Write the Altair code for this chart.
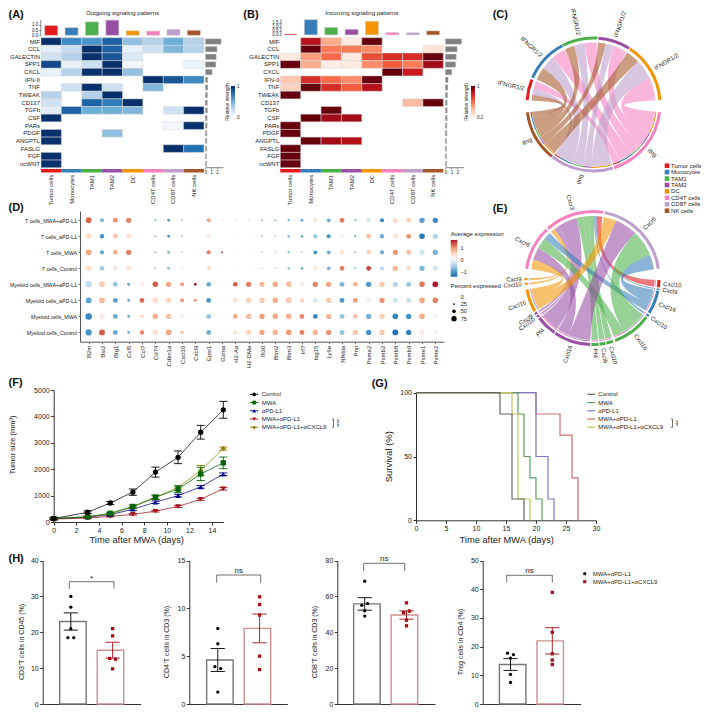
import math
import altair as alt

F = "Liberation Sans"
INK = "#222222"
AX = "#333333"
W, H = 693, 700

# ---------- cluster palette ----------
clusters = ["Tumor cells", "Monocytes", "TAM1", "TAM2", "DC", "CD4T cells", "CD8T cells", "NK cells"]
RED, BLUE, GREEN, PURPLE, ORANGE, PINK, LILAC, BROWN = pal = [
    "#E41A1C", "#377EB8", "#4DAF4A", "#984EA3", "#F29403", "#F781BF", "#BC9DCC", "#A65628"]

# ---------- A / B ----------
pathways = ["MIF", "CCL", "GALECTIN", "SPP1", "CXCL", "IFN-II", "TNF", "TWEAK", "CD137", "TGFb",
            "CSF", "PARs", "PDGF", "ANGPTL", "FASLG", "FGF", "ncWNT"]
_ = None
out_vals = [
    [1.0, .65, .6, .8, .4, .3, .5, .3],
    [.1, .25, 1, .8, .08, .2, .45, .3],
    [.2, .3, 1, .85, .15, _, _, _],
    [.9, .08, .22, 1, .02, _, _, .06],
    [.07, .3, 1, 1, .4, _, _, _],
    [_, _, _, _, _, 1, .85, .65],
    [_, .2, 1, .2, _, .45, _, _],
    [.3, _, .3, 1, _, _, _, _],
    [.2, _, .8, .7, 1, _, _, _],
    [.1, .8, .5, .5, .45, _, .2, 1],
    [1, _, _, _, _, _, _, _],
    [_, _, _, _, _, _, .03, 1],
    [1, _, _, .4, _, _, _, _],
    [1, _, _, _, _, _, _, _],
    [_, _, _, _, _, _, 1, .75],
    [1, _, _, _, _, _, _, _],
    [1, _, _, _, _, _, _, _],
]
in_vals = [
    [_, .8, .3, .05, 1, _, _, _],
    [_, 1, .45, .45, .4, _, _, .08],
    [.05, .35, .5, .05, .6, .7, .7, 1],
    [1, .3, .03, .05, .4, .55, .45, .85],
    [_, _, _, _, _, 1, .75, _],
    [.2, .7, .5, .4, 1, _, _, _],
    [.15, 1, .7, .55, .8, _, _, _],
    [1, _, _, _, _, _, _, _],
    [_, _, _, _, _, _, .25, 1],
    [_, _, 1, _, _, _, _, _],
    [_, 1, .85, .85, _, _, _, _],
    [1, _, _, _, _, _, _, _],
    [1, _, _, _, _, _, _, _],
    [_, 1, .85, .8, _, _, _, _],
    [1, _, _, _, _, _, _, _],
    [1, _, _, _, _, _, _, _],
    [1, _, _, _, _, _, _, _],
]
out_top = [.92, .72, 1.27, 1.43, .43, .4, .56, .47]
in_top = [.12, 1.9, .93, .7, 1.7, .3, .27, .5]
out_right = [2.7, 2.0, 1.85, 1.8, 1.15, .4, .4, .35, .35, .35, .3, .3, .25, .25, .25, .2, .2]
in_right = [2.7, 1.95, 1.8, 1.7, 1.05, .45, .4, .35, .3, .3, .3, .25, .25, .2, .2, .2, .2]
BLUES = ["#f7fbff", "#c6dbef", "#6baed6", "#2171b5", "#08306b"]
REDS = ["#fff5f0", "#fcbba1", "#fb6a4a", "#cb181d", "#67000d"]

# ---------- C ----------
c_targets = [("Tumor cells", RED, 273.8, 292.0), ("Monocytes", BLUE, 293.7, 332.0),
             ("TAM1", GREEN, 332.5, 363.3), ("TAM2", PURPLE, 4.2, 32.3), ("DC", ORANGE, 33.0, 86.0)]
c_sources = [("CD4T cells", PINK, 96.8, 162.0), ("CD8T cells", LILAC, 163.0, 218.0), ("NK cells", BROWN, 218.7, 263.2)]
c_flow = {"CD4T cells": [7, 13, 12, 13, 21], "CD8T cells": [6, 13, 10, 8, 19], "NK cells": [5, 12, 9, 7, 13]}

# ---------- E ----------
e_sectors = [
    ("r10", RED, 91.7, 98.0, "Cxcl10"), ("b9", BLUE, 99.0, 100.3, "Cxcl9"), ("b16", BLUE, 101.0, 121.6, "Cxcl16"),
    ("b10", BLUE, 123.0, 125.0, "Cxcl10"), ("g16", GREEN, 126.0, 160.0, "Cxcl16"), ("g10", GREEN, 162.0, 168.0, "Cxcl10"),
    ("g9", GREEN, 168.7, 174.0, "Cxcl9"), ("g4", GREEN, 174.7, 181.0, "Pf4"), ("p16", PURPLE, 182.0, 214.0, "Cxcl16"),
    ("p4", PURPLE, 214.8, 233.0, "Pf4"), ("p10", PURPLE, 234.0, 236.0, "Cxcl10"), ("p9", PURPLE, 237.0, 239.0, "Cxcl9"),
    ("o16", ORANGE, 240.0, 260.0, "Cxcl16"), ("o10", ORANGE, 264.0, 266.0, "Cxcl10"), ("o9", ORANGE, 268.0, 270.0, "Cxcl9"),
    ("x6p", PINK, 278.0, 316.5, "Cxcr6"), ("x3", PINK, 318.0, 369.3, "Cxcr3"), ("x6l", LILAC, 10.5, 82.0, "Cxcr6"),
]
e_flows = [("x3", "o9", 2), ("x3", "o10", 2), ("x3", "p9", 2), ("x3", "p10", 2), ("x3", "p4", 18),
           ("x3", "g4", 6), ("x3", "g9", 5), ("x3", "g10", 5), ("x3", "b10", 1.5), ("x3", "b9", 1), ("x3", "r10", 5),
           ("x6p", "o16", 9), ("x6p", "p16", 11), ("x6p", "g16", 10), ("x6p", "b16", 7),
           ("x6l", "o16", 11), ("x6l", "p16", 20), ("x6l", "g16", 23), ("x6l", "b16", 13)]

# ---------- D ----------
genes = ["B2m", "Bst2", "Btg1", "Ccl5", "Ccl7", "Cd74", "Cdkn1a", "Cxcl10", "Cxcl9", "Epst1", "Gzma", "H2-Aa", "H2-DMa",
         "Ifi30", "Ifitm2", "Ifitm3", "Irf7", "Isg15", "Ly6e", "Nfkbia", "Pnp", "Psma2", "Psmb2", "Psmb8", "Psmb9", "Psme1", "Psme2"]
groups = ["T cells_MWA+aPD-L1", "T cells_aPD-L1", "T cells_MWA", "T cells_Control",
          "Myeloid cells_MWA+aPD-L1", "Myeloid cells_aPD-L1", "Myeloid cells_MWA", "Myeloid cells_Control"]
dot_avg = [
    [1.2, -.7, .9, 1.0, -.5, -.8, -1, -.8, -.3, .8, .5, -.6, -.6, -.8, -.8, -.8, -.9, .3, -.8, 1.1, -.8, -.15, -1.1, .35, .5, -.9, -1.1],
    [.3, -1, .5, .25, -.5, -.8, -1, -.8, -.2, .2, .02, -.4, -.5, -.8, -.7, -.8, -1, -.6, -1, .05, -.9, .6, -.8, .2, .95, -1.25, -.4],
    [.8, -.85, .7, 1.05, -.6, -.8, -.65, -.7, -.3, 1.05, 1.7, -.5, -.6, -.7, -.8, -.7, -.2, -1, -.8, .3, -.8, .4, -.8, .9, .6, -.2, -.75],
    [.3, -.5, .2, .25, -.6, -.7, -.5, -.6, -.2, .35, .1, -.5, -.6, -.7, -.7, -.7, -.9, .25, -.7, 1.05, -.7, 1.5, -.3, .65, .35, -.7, -.2],
    [-.3, .45, -.6, -.8, .2, 1.25, .8, .9, 1.8, -.8, -.05, 1.25, 1.05, .6, .75, .6, .15, 1.05, .8, -.7, .7, -.95, .5, -.4, -.6, 1.1, 1.75],
    [-.85, .6, -.9, -.85, 1.2, .35, .4, .9, .95, -1, -.05, .3, .45, .5, .7, .5, .4, -.15, .5, -.95, .85, -.05, .9, -.2, -.3, .8, 1.0],
    [-1.1, .15, -.8, -.85, .3, .7, .55, .25, .05, -.6, -.05, .75, .6, .85, .75, .7, 1.0, -1.1, .65, -.6, .55, -.75, .45, -1.1, -1.0, .7, -.02],
    [-1.0, 1.3, -.8, -.8, 1.0, .3, .8, .5, .1, -.8, -.05, .3, .4, .8, .65, .85, 1.05, .7, .9, -.6, .55, -1, .5, -1.3, -1.15, .15, -.03],
]
dot_pct = [
    [83, 58, 70, 75, 12, 29, 37, 20, 8, 58, 20, 16, 16, 25, 25, 33, 37, 58, 54, 67, 29, 67, 58, 75, 67, 75, 75],
    [83, 62, 70, 70, 12, 25, 41, 20, 8, 58, 8, 12, 12, 20, 20, 33, 33, 58, 58, 67, 29, 67, 62, 75, 67, 79, 75],
    [83, 58, 70, 75, 12, 25, 46, 20, 8, 58, 25, 12, 12, 20, 16, 33, 37, 54, 54, 62, 25, 67, 58, 75, 67, 75, 75],
    [83, 67, 70, 70, 12, 25, 50, 20, 8, 58, 12, 12, 12, 20, 20, 33, 33, 58, 54, 67, 29, 67, 62, 75, 67, 75, 75],
    [92, 83, 70, 46, 50, 79, 75, 54, 41, 67, 16, 67, 75, 75, 79, 79, 62, 75, 75, 70, 70, 75, 75, 75, 70, 79, 83],
    [83, 83, 70, 41, 67, 79, 75, 54, 41, 67, 16, 67, 75, 75, 79, 79, 62, 67, 75, 70, 70, 67, 75, 75, 70, 79, 79],
    [92, 83, 70, 41, 54, 79, 75, 46, 20, 67, 16, 67, 75, 75, 79, 79, 67, 67, 75, 70, 70, 75, 75, 79, 75, 79, 75],
    [87, 83, 70, 37, 62, 79, 79, 54, 20, 67, 16, 54, 75, 75, 79, 79, 70, 75, 75, 70, 75, 75, 75, 83, 75, 75, 70],
]
RDBU = ["#2166ac", "#4393c3", "#92c5de", "#d1e5f0", "#f7f7f7", "#fddbc7", "#f4a582", "#d6604d", "#b2182b"]
RDBU_DOMAIN = [-1.4, -1.0, -.6, -.2, 0, .35, .8, 1.25, 1.75]

# ---------- F ----------
tumor_days = [0, 3, 5, 7, 9, 11, 13, 15]
tumor_series = [
    ("MWA+αPD-L1", "#a50f15", "triangle-down", [110, 150, 210, 290, 410, 590, 860, 1260], [30, 20, 20, 30, 30, 40, 40, 50]),
    ("αPD-L1", "#00008b", "triangle-up", [130, 180, 280, 480, 750, 1000, 1330, 1810], [20, 20, 30, 40, 50, 50, 50, 50]),
    ("MWA+αPD-L1+αCXCL9", "#8b8000", "diamond", [130, 200, 300, 560, 930, 1310, 1950, 2780], [20, 20, 30, 40, 60, 60, 190, 60]),
    ("MWA", "#006400", "square", [130, 200, 330, 590, 940, 1240, 1820, 2240], [40, 30, 40, 60, 80, 130, 250, 220]),
    ("Control", "#000000", "circle", [130, 370, 720, 1130, 1890, 2450, 3400, 4250], [50, 50, 60, 120, 190, 240, 260, 320]),
]
legend_names = ["Control", "MWA", "αPD-L1", "MWA+αPD-L1", "MWA+αPD-L1+αCXCL9"]

# ---------- G ----------
surv_series = [
    ("MWA+αPD-L1", "#cf6f6f", [0, 20, 24, 26, 27], [100, 83.3, 66.7, 33.3, 0]),
    ("αPD-L1", "#7b7bc4", [0, 20, 22, 23], [100, 50, 16.7, 0]),
    ("MWA", "#5c9c5c", [0, 17, 18, 19, 20, 21], [100, 83.3, 50, 33.3, 16.7, 0]),
    ("MWA+αPD-L1+αCXCL9", "#c4c45e", [0, 16, 17, 19], [100, 83.3, 16.7, 0]),
    ("Control", "#666666", [0, 14, 16, 18], [100, 83.3, 16.7, 0]),
]
G_LEG = {"Control": "#666666", "MWA": "#5c9c5c", "αPD-L1": "#7b7bc4", "MWA+αPD-L1": "#cf6f6f", "MWA+αPD-L1+αCXCL9": "#c4c45e"}

# ---------- H ----------
h_panels = [
    dict(title="CD3⁺T cells in CD45 (%)", top=40, ticks=[0, 10, 20, 30, 40], means=[23, 15], errs=[2.4, 2.2],
         a=[30, 27, 21, 18.5, 18.5], aj=[0, 0, 0, -1, 1], b=[21, 19, 12.7, 12.5, 9.8], bj=[0, 0, -1, 1, 0], sig="*"),
    dict(title="CD4⁺T cells in CD3 (%)", top=15, ticks=[0, 5, 10, 15], means=[4.6, 7.9], errs=[1.2, 1.5],
         a=[7.9, 6.3, 3.9, 3.7, 1.25], aj=[0, 0, -1, 1, 0], b=[11.2, 10.4, 9.3, 5.0, 3.6], bj=[0, 0, 0, 0, 0], sig="ns"),
    dict(title="CD8⁺T cells in CD3 (%)", top=80, ticks=[0, 20, 40, 60, 80], means=[55.8, 49.6], errs=[3.5, 2.3],
         a=[68.5, 56, 55, 52, 49], aj=[0, 1, -1, 0, 0], b=[56.4, 51.8, 50.9, 46.7, 43.6], bj=[0, 1, -1, 0, 0], sig="ns"),
    dict(title="Treg cells in CD4 (%)", top=50, ticks=[0, 10, 20, 30, 40, 50], means=[13.75, 22], errs=[2.05, 4.6],
         a=[17.7, 17.2, 16, 10.3, 7.5], aj=[-1, 1, 0, 0, 0], b=[38.9, 25, 17.5, 15.3, 13.75], bj=[0, 0, 0, 0, 0], sig="ns"),
]

# ---------- helpers ----------
layers = []


def D(rows):
    return alt.Data(values=rows)


def lin(domain, r0, r1):
    return alt.Scale(domain=domain, range=[r0 - 8, r1 - 8], nice=False, zero=False)


def yaxis(px, values, size=7, fmt=None, tick=3, **kw):
    opts = dict(orient="left", offset=-(px - 8), values=values, domainColor=AX, tickColor=AX, tickSize=tick,
                labelFont=F, labelFontSize=size, labelColor=INK, grid=False, title=None, labelPadding=1.5,
                domainWidth=1, tickWidth=1, labelOverlap=False, labelFlush=False, labelBound=False)
    if fmt:
        opts["format"] = fmt
    opts.update(kw)
    return alt.Axis(**opts)


def xaxis(py, values=None, size=7, fmt=None, tick=3, **kw):
    opts = dict(orient="bottom", offset=py - 8 - H, domainColor=AX, tickColor=AX, tickSize=tick,
                labelFont=F, labelFontSize=size, labelColor=INK, grid=False, title=None, labelPadding=1.5,
                domainWidth=1, tickWidth=1, labelOverlap=False, labelFlush=False, labelBound=False)
    if values is not None:
        opts["values"] = values
    if fmt:
        opts["format"] = fmt
    opts.update(kw)
    return alt.Axis(**opts)


NOTES = []


def note(x, y, t, size=6, angle=0, align="center", weight="normal", color=INK):
    NOTES.append(dict(x=x, y=y, t=t, size=size, angle=angle % 360, align=align, weight=weight, color=color))


def flush_notes():
    keys = sorted({(n["align"], n["weight"]) for n in NOTES})
    for al, we in keys:
        rows = [n for n in NOTES if n["align"] == al and n["weight"] == we]
        layers.append(alt.Chart(D(rows)).mark_text(font=F, align=al, baseline="middle", fontWeight=we).encode(
            x=alt.X("x:Q", scale=lin([0, 709], 0, 709), axis=None),
            y=alt.Y("y:Q", scale=lin([0, 714], 0, 714), axis=None),
            text=alt.Text("t:N"),
            size=alt.Size("size:Q", scale=None),
            angle=alt.Angle("angle:Q", scale=None),
            color=alt.Color("color:N", scale=None),
        ))


def gradient_bar(x0, x1, y0, y1, colors):
    n = len(colors) - 1
    grad = dict(gradient="linear", x1=0, x2=0, y1=1, y2=0,
                stops=[dict(offset=i / n, color=c) for i, c in enumerate(colors)])
    layers.append(alt.Chart(D([dict(a=1)])).mark_rect(color=grad).encode(
        x=alt.value(x0 - 8), x2=alt.value(x1 - 8), y=alt.value(y0 - 8), y2=alt.value(y1 - 8)))


def signal_panel(vals, top, right, ramp, x0, x1, top_dom, top_y0, top_y1, top_ticks, rx0, rx1, title, tick_axis_x):
    yt, yb = 37.7, 167.7
    cells = [dict(r=pathways[i], c=clusters[j], v=v) for i, row in enumerate(vals) for j, v in enumerate(row) if v is not None]
    band_x = alt.Scale(type="band", domain=clusters, range=[x0 - 8, x1 - 8], paddingInner=0, paddingOuter=0)
    band_y = alt.Scale(type="band", domain=pathways, range=[yt - 8, yb - 8], paddingInner=0, paddingOuter=0)
    # row labels and heat cells
    layers.append(alt.Chart(D(cells)).mark_rect(stroke="#d8d8d8", strokeWidth=.5).encode(
        x=alt.X("c:N", scale=band_x, axis=None),
        y=alt.Y("r:N", scale=band_y, axis=alt.Axis(orient="left", offset=-(x0 - 8), domain=False, ticks=False, labelFont=F,
                                                   labelFontSize=6, labelColor=INK, title=None, labelPadding=1.5,
                                                   labelOverlap=False, grid=False)),
        color=alt.Color("v:Q", scale=alt.Scale(domain=[0, .25, .5, .75, 1], range=ramp), legend=None),
    ))
    # top bars
    rows = [dict(c=c, v=v, col=pal[i]) for i, (c, v) in enumerate(zip(clusters, top))]
    layers.append(alt.Chart(D(rows)).mark_bar(stroke="#cfcfcf", strokeWidth=.5).encode(
        x=alt.X("c:N", scale=alt.Scale(type="band", domain=clusters, range=[x0 - 8, x1 - 8], paddingInner=.36, paddingOuter=.18), axis=None),
        y=alt.Y("v:Q", stack=None, scale=lin(top_dom, top_y0, top_y1),
                axis=yaxis(tick_axis_x, top_ticks, size=4.5, tick=1.5, domainWidth=.6, tickWidth=.6, labelPadding=1)),
        color=alt.Color("col:N", scale=None),
    ))
    # right bars
    rows = [dict(r=r, v=v) for r, v in zip(pathways, right)]
    layers.append(alt.Chart(D(rows)).mark_bar(color="#808080", stroke="#b8b8b8", strokeWidth=.4).encode(
        y=alt.Y("r:N", scale=alt.Scale(type="band", domain=pathways, range=[yt - 8, yb - 8], paddingInner=.3, paddingOuter=.15), axis=None),
        x=alt.X("v:Q", stack=None, scale=lin([0, 3], rx0, rx1),
                axis=xaxis(yb - .5, [0, 1, 2], size=4.5, tick=1.5, domainWidth=.6, tickWidth=.6, labelPadding=.5)),
    ))
    # cluster strip and column labels
    rows = [dict(c=c, col=pal[i]) for i, c in enumerate(clusters)]
    layers.append(alt.Chart(D(rows)).mark_rect().encode(
        x=alt.X("c:N", scale=band_x, axis=alt.Axis(orient="bottom", offset=172.8 - 8 - H, domain=False, ticks=False, labelAngle=270,
                                                   labelFont=F, labelFontSize=6, labelColor=INK, title=None, labelPadding=1.5,
                                                   labelOverlap=False, grid=False)),
        y=alt.value(169 - 8), y2=alt.value(172.5 - 8),
        color=alt.Color("col:N", scale=None),
    ))
    note((x0 + x1) / 2, 13, title, size=6)


def polar(theta, r):
    a = math.radians(theta)
    return r * math.sin(a), r * math.cos(a)


def norm(a):
    return a + 360 if a < 90 else a


def chord_panel(cx, cy, sectors, flows, src_keys, alpha):
    """sectors: key -> (color, start, end, label); flows: (target, source, weight)"""
    R0, R1, S0, S1, RIB = 68, 65, 63.4, 62.4, 62
    xs = alt.Scale(domain=[-100, 100], range=[cx - 100 - 8, cx + 100 - 8], nice=False, zero=False)
    ys = alt.Scale(domain=[-100, 100], range=[cy + 100 - 8, cy - 100 - 8], nice=False, zero=False)
    spans = {}
    for side_key, other_key in ((0, 1), (1, 0)):
        for key in sectors:
            fl = [f for f in flows if f[side_key] == key]
            if not fl:
                continue
            fl = sorted(fl, key=lambda f: -norm(sectors[f[other_key]][1]))
            tot = sum(f[2] for f in fl)
            c, st, en = sectors[key][0], sectors[key][1], sectors[key][2]
            pos = st
            for f in fl:
                d = (en - st) * f[2] / tot
                spans[(f[0], f[1], side_key)] = (pos, pos + d)
                pos += d
    poly = []
    for i, f in enumerate(flows):
        t0, t1 = spans[(f[0], f[1], 0)]
        s0, s1 = spans[(f[0], f[1], 1)]
        col = sectors[f[1]][0]
        pts = []
        for k in range(13):
            pts.append(polar(s0 + (s1 - s0) * k / 12, RIB))
        a = polar(s1, RIB); b = polar(t0, RIB)
        for k in range(1, 30):
            u = k / 30
            pts.append(((1 - u) ** 2 * a[0] + u ** 2 * b[0], (1 - u) ** 2 * a[1] + u ** 2 * b[1]))
        for k in range(13):
            pts.append(polar(t0 + (t1 - t0) * k / 12, RIB))
        a = polar(t1, RIB); b = polar(s0, RIB)
        for k in range(1, 30):
            u = k / 30
            pts.append(((1 - u) ** 2 * a[0] + u ** 2 * b[0], (1 - u) ** 2 * a[1] + u ** 2 * b[1]))
        poly += [dict(id=i, o=j, x=p[0], y=p[1], col=col) for j, p in enumerate(pts)]
    layers.append(alt.Chart(D(poly)).mark_line(opacity=alpha, strokeWidth=0, interpolate="linear").encode(
        x=alt.X("x:Q", scale=xs, axis=None), y=alt.Y("y:Q", scale=ys, axis=None),
        fill=alt.Fill("col:N", scale=None), detail=alt.Detail("id:N"), order=alt.Order("o:Q"),
    ))
    theta = alt.Scale(domain=[0, 360], range=[0, 2 * math.pi])
    rows = [dict(cx=0, cy=0, a=v[1], b=v[2], col=v[0]) for v in sectors.values()]
    layers.append(alt.Chart(D(rows)).mark_arc(radius=R0, radius2=R1).encode(
        x=alt.X("cx:Q", scale=xs, axis=None), y=alt.Y("cy:Q", scale=ys, axis=None),
        theta=alt.Theta("a:Q", scale=theta, stack=None), theta2=alt.Theta2("b:Q"),
        color=alt.Color("col:N", scale=None),
    ))
    # inner strip on the ligand side coloured by the partner
    rows = []
    for (a, b, side), (p, q) in spans.items():
        if side == 1 and b in src_keys:
            rows.append(dict(cx=0, cy=0, a=p, b=q, col=sectors[a][0]))
    layers.append(alt.Chart(D(rows)).mark_arc(radius=S0, radius2=S1).encode(
        x=alt.X("cx:Q", scale=xs, axis=None), y=alt.Y("cy:Q", scale=ys, axis=None),
        theta=alt.Theta("a:Q", scale=theta, stack=None), theta2=alt.Theta2("b:Q"),
        color=alt.Color("col:N", scale=None),
    ))
    # labels
    rows = {"left": [], "right": []}
    for v in sectors.values():
        mid = ((v[1] + v[2]) / 2) % 360
        x, y = polar(mid, 71)
        if mid < 180:
            rows["left"].append(dict(x=x, y=y, t=v[3], a=(mid - 90) % 360))
        else:
            rows["right"].append(dict(x=x, y=y, t=v[3], a=(mid - 270) % 360))
    for al, rr in rows.items():
        layers.append(alt.Chart(D(rr)).mark_text(font=F, fontSize=6, align=al, baseline="middle", color=INK).encode(
            x=alt.X("x:Q", scale=xs, axis=None), y=alt.Y("y:Q", scale=ys, axis=None),
            text=alt.Text("t:N"), angle=alt.Angle("a:Q", scale=None),
        ))


# ---------- build A, B ----------
signal_panel(out_vals, out_top, out_right, BLUES, 41, 204, [0, 1.5], 35.3, 19.4, [0, .5, 1], 205.4, 222.8,
             "Outgoing signaling patterns", 40.3)
signal_panel(in_vals, in_top, in_right, REDS, 280.3, 443.3, [0, 2], 34.9, 18.9, [0, .5, 1, 1.5], 445.4, 463.4,
             "Incoming signaling patterns", 280.5)
gradient_bar(231, 235, 86, 117, BLUES)
note(237, 87, "1", size=4.5, align="left")
note(237, 117.5, "0", size=4.5, align="left")
note(227, 102, "Relative strength", size=5, angle=270)
gradient_bar(471, 475, 86, 117, REDS)
note(477, 87, "1", size=4.5, align="left")
note(477, 117.5, "0.2", size=4.5, align="left")
note(466, 102, "Relative strength", size=5, angle=270)

# ---------- build C ----------
c_sec = {}
for n, col, a, b in c_targets:
    c_sec[n] = (col, a, b, "IFNGR1/2")
for n, col, a, b in c_sources:
    c_sec[n] = (col, a, b, "Ifng")
c_fl = []
for n, col, a, b in c_sources:
    for (t, *_rest), w in zip(c_targets, c_flow[n]):
        c_fl.append((t, n, w))
chord_panel(593.5, 104.5, c_sec, c_fl, {s[0] for s in c_sources}, .58)

# cell-type legend
leg = [dict(c=c, col=pal[i]) for i, c in enumerate(clusters)]
leg_y = alt.Scale(type="point", domain=clusters, range=[165.7 - 8, 210.7 - 8], padding=0)
layers.append(alt.Chart(D(leg)).mark_square(size=21, opacity=1).encode(
    x=alt.value(667 - 8), y=alt.Y("c:N", scale=leg_y, axis=None), color=alt.Color("col:N", scale=None)))
layers.append(alt.Chart(D(leg)).mark_text(font=F, fontSize=6, align="left", color=INK).encode(
    x=alt.value(671 - 8), y=alt.Y("c:N", scale=leg_y, axis=None), text=alt.Text("c:N")))

# ---------- build E ----------
e_sec = {k: (c, a, b, l) for k, c, a, b, l in e_sectors}
chord_panel(592.5, 278, e_sec, e_flows, {k for k, *_x in e_sectors if k[0] != "x"}, .58)

# ---------- build D ----------
rows = []
for gi, g in enumerate(groups):
    for ci, gene in enumerate(genes):
        rows.append(dict(g=g, gene=gene, avg=dot_avg[gi][ci], pct=dot_pct[gi][ci]))
size_scale = alt.Scale(type="pow", exponent=2, domain=[0, 100], range=[0, 50])
axis_d = dict(domainColor="#555555", tickColor="#555555", tickSize=2, labelFont=F, labelColor=INK,
              grid=False, title=None, labelOverlap=False, domainWidth=1, tickWidth=.8, labelPadding=1.5)
layers.append(alt.Chart(D(rows)).mark_circle(opacity=1).encode(
    x=alt.X("gene:N", scale=alt.Scale(type="point", domain=genes, range=[80 - 8, 444 - 8], padding=.65),
            axis=alt.Axis(orient="bottom", offset=341.7 - 8 - H, labelAngle=270, labelFontSize=6, **axis_d)),
    y=alt.Y("g:N", scale=alt.Scale(type="point", domain=groups, range=[211 - 8, 341.7 - 8], padding=.58),
            axis=alt.Axis(orient="left", offset=-(80 - 8), labelFontSize=5.3, **axis_d)),
    size=alt.Size("pct:Q", scale=size_scale, legend=None),
    color=alt.Color("avg:Q", scale=alt.Scale(domain=RDBU_DOMAIN, range=RDBU), legend=None),
))
note(450.7, 233.5, "Average expression", size=6, align="left")
gradient_bar(450.7, 457.3, 240, 276.7, RDBU)
for lab, yy in (("1", 248), ("0", 260.3), ("−1", 272)):
    note(460.5, yy, lab, size=5.5, align="left")
note(450.7, 286, "Percent expressed", size=6, align="left")
pct_leg = [0, 25, 50, 75]
rows = [dict(p=p, t=str(p)) for p in pct_leg]
pct_y = alt.Scale(type="point", domain=[str(p) for p in pct_leg], range=[296.7 - 8, 318.7 - 8], padding=0)
layers.append(alt.Chart(D(rows)).mark_circle(color="#000000", opacity=1).encode(
    x=alt.value(454 - 8), y=alt.Y("t:N", scale=pct_y, axis=None),
    size=alt.Size("p:Q", scale=size_scale, legend=None)))
layers.append(alt.Chart(D(rows)).mark_text(font=F, fontSize=5.5, align="left", color=INK).encode(
    x=alt.value(460.7 - 8), y=alt.Y("t:N", scale=pct_y, axis=None), text=alt.Text("t:N")))

# ---------- build F ----------
fx = lin([0, 15], 53.7, 223.3)
fy = lin([0, 5000], 522, 390)
first = True
for name, col, shp, vals, errs in tumor_series:
    rows = [dict(d=d, v=v, lo=v - e, hi=v + e, a=d - .36, b=d + .36, col=col, s=shp) for d, v, e in zip(tumor_days, vals, errs)]
    xenc = alt.X("d:Q", scale=fx, axis=xaxis(522, [0, 2, 4, 6, 8, 10, 12, 14], fmt="d") if first else None)
    yenc = alt.Y("v:Q", scale=fy, axis=yaxis(53.7, [0, 1000, 2000, 3000, 4000, 5000], fmt="d") if first else None)
    first = False
    base = alt.Chart(D(rows))
    layers.append(base.mark_line(color=col, strokeWidth=.9, opacity=.8).encode(x=xenc, y=yenc))
    layers.append(base.mark_rule(color=col, strokeWidth=.9).encode(
        x=alt.X("d:Q", scale=fx, axis=None), y=alt.Y("lo:Q", scale=fy, axis=None), y2=alt.Y2("hi:Q")))
    for fld in ("lo", "hi"):
        layers.append(base.mark_rule(color=col, strokeWidth=.9).encode(
            x=alt.X("a:Q", scale=fx, axis=None), x2=alt.X2("b:Q"), y=alt.Y(f"{fld}:Q", scale=fy, axis=None)))
    layers.append(base.mark_point(filled=True, size=28, opacity=1, color=col).encode(
        x=alt.X("d:Q", scale=fx, axis=None), y=alt.Y("v:Q", scale=fy, axis=None),
        shape=alt.Shape("s:N", scale=None)))
note(12.7, 445, "Tumor size (mm³)", size=7.5, angle=270)
note(136.7, 540.3, "Time after MWA (days)", size=9.3)

by_name = {s[0]: s for s in tumor_series}
f_leg = [dict(n=n, col=by_name[n][1], s=by_name[n][2]) for n in legend_names]
leg_sc = alt.Scale(type="point", domain=legend_names, range=[394.3 - 8, 427.3 - 8], padding=0)
layers.append(alt.Chart(D(f_leg)).mark_rule(strokeWidth=.9).encode(
    x=alt.value(250 - 8), x2=alt.value(258.3 - 8), y=alt.Y("n:N", scale=leg_sc, axis=None), color=alt.Color("col:N", scale=None)))
layers.append(alt.Chart(D(f_leg)).mark_point(filled=True, size=14, opacity=1).encode(
    x=alt.value(254.2 - 8), y=alt.Y("n:N", scale=leg_sc, axis=None), color=alt.Color("col:N", scale=None), shape=alt.Shape("s:N", scale=None)))
layers.append(alt.Chart(D(f_leg)).mark_text(font=F, fontSize=6, align="left", color=INK).encode(
    x=alt.value(261.7 - 8), y=alt.Y("n:N", scale=leg_sc, axis=None), text=alt.Text("n:N")))


def sig_bracket(x, y0, y1, stars, dx):
    seg = [dict(o=0, x=x - 1.5, y=y0), dict(o=1, x=x, y=y0), dict(o=2, x=x, y=y1), dict(o=3, x=x - 1.5, y=y1)]
    layers.append(alt.Chart(D(seg)).mark_line(color=AX, strokeWidth=.7).encode(
        x=alt.X("x:Q", scale=lin([0, 709], 0, 709), axis=None), y=alt.Y("y:Q", scale=lin([0, 714], 0, 714), axis=None),
        order=alt.Order("o:Q")))
    note(x + dx, (y0 + y1) / 2, stars, size=5, angle=90)


sig_bracket(333.5, 419, 427.3, "****", 3.5)

# ---------- build G ----------
gx = lin([0, 30], 416, 596)
gy = lin([0, 100], 520.3, 392.7)
first = True
for name, col, ts, ss in surv_series:
    rows = [dict(t=t, s=s) for t, s in zip(ts, ss)]
    xenc = alt.X("t:Q", scale=gx, axis=xaxis(520.3, [0, 5, 10, 15, 20, 25, 30], fmt="d") if first else None)
    yenc = alt.Y("s:Q", scale=gy, axis=yaxis(416, [0, 50, 100], fmt="d") if first else None)
    first = False
    layers.append(alt.Chart(D(rows)).mark_line(color=col, strokeWidth=1.2, interpolate="step-after").encode(x=xenc, y=yenc))
note(389.3, 456.7, "Survival (%)", size=9.5, angle=270)
note(506.7, 540.3, "Time after MWA (days)", size=9.3)
g_leg = [dict(n=n, col=G_LEG[n]) for n in legend_names]
layers.append(alt.Chart(D(g_leg)).mark_rule(strokeWidth=1.2).encode(
    x=alt.value(587.3 - 8), x2=alt.value(595 - 8), y=alt.Y("n:N", scale=leg_sc, axis=None), color=alt.Color("col:N", scale=None)))
layers.append(alt.Chart(D(g_leg)).mark_text(font=F, fontSize=6, align="left", color=INK).encode(
    x=alt.value(598.3 - 8), y=alt.Y("n:N", scale=leg_sc, axis=None), text=alt.Text("n:N")))
sig_bracket(672.5, 419, 427.3, "***", 3.5)

# ---------- build H ----------
H_BOTTOM = 704
h_frames = [  # axis x, right end, first bar centre, bracket (top, drop), bracket x, y-title x
    (42.7, 140.7, 70.8, (581.7, 588.7), (69.3, 114), 21.7),
    (189.3, 287.3, 217.8, (575, 582.7), (216.7, 260.7), 166.7),
    (337.3, 435, 364.7, (563.3, 571), (363.7, 404.7), 315),
    (482.7, 580.7, 510.5, (575.3, 582.3), (506.7, 552.3), 460.7),
]
STEP = 41.8
B_ST = ["#777777", "#cf8f8f"]
P_COL = ["#000000", "#a50f15"]
for p, (ax0, ax1, c0, (bt, bd), (bx0, bx1), tx) in zip(h_panels, h_frames):
    hx = alt.Scale(domain=[(ax0 - c0) / STEP, (ax1 - c0) / STEP], range=[ax0 - 8, ax1 - 8], nice=False, zero=False)
    hy = lin([0, p["top"]], H_BOTTOM, 560.5)
    rows = [dict(g=i, v=p["means"][i], lo=p["means"][i] - p["errs"][i], hi=p["means"][i] + p["errs"][i],
                 a=i - .17, b=i + .17, st=B_ST[i], pc=P_COL[i]) for i in range(2)]
    base = alt.Chart(D(rows))
    layers.append(base.mark_bar(size=26.5, fill="white", strokeWidth=1.4, orient="vertical").encode(
        x=alt.X("g:Q", scale=hx, axis=xaxis(H_BOTTOM, [], tick=0, ticks=False, labels=False)),
        y=alt.Y("v:Q", stack=None, scale=hy, axis=yaxis(ax0, p["ticks"], fmt="d")),
        stroke=alt.Stroke("st:N", scale=None),
    ))
    for i, (vals, jit) in enumerate(((p["a"], p["aj"]), (p["b"], p["bj"]))):
        pts = [dict(x=i + j * .07, v=v) for v, j in zip(vals, jit)]
        mk = alt.Chart(D(pts))
        mark = mk.mark_circle(size=11, opacity=1, color=P_COL[0]) if i == 0 else mk.mark_square(size=11, opacity=1, color=P_COL[1])
        layers.append(mark.encode(x=alt.X("x:Q", scale=hx, axis=None), y=alt.Y("v:Q", scale=hy, axis=None)))
    layers.append(base.mark_rule(strokeWidth=.9).encode(
        x=alt.X("g:Q", scale=hx, axis=None), y=alt.Y("lo:Q", scale=hy, axis=None), y2=alt.Y2("hi:Q"),
        color=alt.Color("pc:N", scale=None)))
    for fld in ("lo", "hi"):
        layers.append(base.mark_rule(strokeWidth=.9).encode(
            x=alt.X("a:Q", scale=hx, axis=None), x2=alt.X2("b:Q"), y=alt.Y(f"{fld}:Q", scale=hy, axis=None),
            color=alt.Color("pc:N", scale=None)))
    seg = [dict(o=0, x=bx0, y=bd), dict(o=1, x=bx0, y=bt), dict(o=2, x=bx1, y=bt), dict(o=3, x=bx1, y=bd)]
    layers.append(alt.Chart(D(seg)).mark_line(color=AX, strokeWidth=.7).encode(
        x=alt.X("x:Q", scale=lin([0, 709], 0, 709), axis=None), y=alt.Y("y:Q", scale=lin([0, 714], 0, 714), axis=None),
        order=alt.Order("o:Q")))
    note((bx0 + bx1) / 2, bt - (4 if p["sig"] == "ns" else 3), p["sig"], size=8)
    note(tx, 642, p["title"], size=7, angle=270)

h_leg = ["MWA+αPD-L1", "MWA+αPD-L1+αCXCL9"]
hl = alt.Scale(type="point", domain=h_leg, range=[573.7 - 8, 581.7 - 8], padding=0)
layers.append(alt.Chart(D([dict(n=h_leg[0])])).mark_circle(size=10, opacity=1, color=P_COL[0]).encode(
    x=alt.value(584.7 - 8), y=alt.Y("n:N", scale=hl, axis=None)))
layers.append(alt.Chart(D([dict(n=h_leg[1])])).mark_square(size=10, opacity=1, color=P_COL[1]).encode(
    x=alt.value(584.7 - 8), y=alt.Y("n:N", scale=hl, axis=None)))
layers.append(alt.Chart(D([dict(n=n) for n in h_leg])).mark_text(font=F, fontSize=6, align="left", color=INK).encode(
    x=alt.value(592.7 - 8), y=alt.Y("n:N", scale=hl, axis=None), text=alt.Text("n:N")))

# ---------- panel letters ----------
for lab, x, y in (("(A)", 8.5, 14.5), ("(B)", 243.3, 14.5), ("(C)", 492.7, 14.5), ("(D)", 8.5, 208), ("(E)", 492.7, 209),
                  ("(F)", 8.5, 383.3), ("(G)", 371.7, 384.3), ("(H)", 8.5, 559.3)):
    note(x, y, lab, size=11, align="left", weight="bold", color="#111111")
flush_notes()

chart = alt.layer(*layers).resolve_scale(
    x="independent", y="independent", color="independent", size="independent", theta="independent",
    shape="independent", fill="independent", stroke="independent", angle="independent",
).properties(width=W, height=H, padding=0, autosize=alt.AutoSizeParams(type="none"), background="white"
).configure_view(stroke=None)

chart.save("out.html", embed_options={"renderer": "svg", "actions": False})
